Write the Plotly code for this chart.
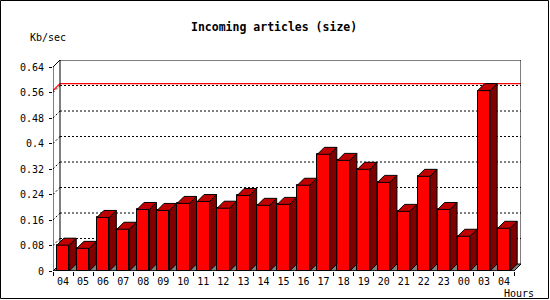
import plotly.graph_objects as go

# ---------------- data ----------------
hours = ["04", "05", "06", "07", "08", "09", "10", "11", "12", "13", "14", "15",
         "16", "17", "18", "19", "20", "21", "22", "23", "00", "03", "04"]
kb_per_sec = [0.081, 0.071, 0.168, 0.131, 0.193, 0.190, 0.212, 0.218, 0.197, 0.237,
              0.206, 0.209, 0.269, 0.366, 0.347, 0.319, 0.278, 0.187, 0.297, 0.193,
              0.109, 0.566, 0.134]
y_tick_values = [0, 0.08, 0.16, 0.24, 0.32, 0.40, 0.48, 0.56, 0.64]
y_tick_labels = ["0", "0.08", "0.16", "0.24", "0.32", "0.4", "0.48", "0.56", "0.64"]
title_text = "Incoming articles (size)"
y_unit = "Kb/sec"
x_unit = "Hours"

# ---------------- geometry ----------------
W, H = 550, 300
L, R, T, B = 53, 29, 60, 29
PW, PH = W - L - R, H - T - B
DEPTH_PX = 7
n = len(hours)
y_top = y_tick_values[-1]
dx = DEPTH_PX * n / (PW - DEPTH_PX)
dy = DEPTH_PX * y_top / (PH - DEPTH_PX)
bar_w = 0.62

FRONT = "#ff0000"
SIDE = "#800000"
TOP = "#c00000"
FLOOR = "#808080"


def pxx(p):
    return (p - L) / PW


def pxy(p):
    return (T + PH - p) / PH


xs = list(range(n))
x_left, x_right = -0.5, n - 0.5

fig = go.Figure()

# front faces
fig.add_trace(go.Bar(
    x=xs, y=kb_per_sec, width=bar_w,
    marker=dict(color=FRONT, line=dict(color="black", width=1)),
    hoverinfo="skip",
))

# side faces and top faces
sx, sy, tx, ty = [], [], [], []
for x, v in zip(xs, kb_per_sec):
    xl, xr = x - bar_w / 2, x + bar_w / 2
    sx += [xr, xr + dx, xr + dx, xr, xr, None]
    sy += [0, dy, v + dy, v, 0, None]
    tx += [xl, xl + dx, xr + dx, xr, xl, None]
    ty += [v, v + dy, v + dy, v, v, None]

fig.add_trace(go.Scatter(x=sx, y=sy, mode="lines", fill="toself", fillcolor=SIDE,
                         line=dict(color="black", width=1), hoverinfo="skip"))
fig.add_trace(go.Scatter(x=tx, y=ty, mode="lines", fill="toself", fillcolor=TOP,
                         line=dict(color="black", width=1), hoverinfo="skip"))

shapes = []
# floor
floor_path = (f"M {x_left},0 L {x_right},0 L {x_right + dx},{dy} "
              f"L {x_left + dx},{dy} Z")
shapes.append(dict(type="path", path=floor_path, xref="x", yref="y", layer="below",
                   fillcolor=FLOOR, line=dict(color="black", width=1)))
# dotted grid on back wall + connectors on left wall
for v in y_tick_values[1:-1]:
    shapes.append(dict(type="line", xref="x", yref="y", layer="below",
                       x0=x_left + dx, x1=x_right + dx, y0=v + dy, y1=v + dy,
                       line=dict(color="black", width=1, dash="2px,2px")))
    shapes.append(dict(type="line", xref="x", yref="y", layer="below",
                       x0=x_left, x1=x_left + dx, y0=v, y1=v + dy,
                       line=dict(color="black", width=1, dash="2px,2px")))
# max line
vmax = max(kb_per_sec)
shapes.append(dict(type="line", xref="x", yref="y", layer="below",
                   x0=x_left + dx, x1=x_right + dx, y0=vmax + dy, y1=vmax + dy,
                   line=dict(color="red", width=1.2)))
shapes.append(dict(type="line", xref="x", yref="y", layer="below",
                   x0=x_left, x1=x_left + dx, y0=vmax, y1=vmax + dy,
                   line=dict(color="red", width=1.2)))
# back wall outline
for (x0, y0, x1, y1) in [
    (x_left + dx, dy, x_left + dx, y_top + dy),
    (x_left + dx, y_top + dy, x_right + dx, y_top + dy),
    (x_right + dx, dy, x_right + dx, y_top + dy),
    (x_left, y_top, x_left + dx, y_top + dy),
    (x_left, 0, x_left, y_top),
    (x_left, 0, x_right, 0),
]:
    shapes.append(dict(type="line", xref="x", yref="y", layer="below",
                       x0=x0, x1=x1, y0=y0, y1=y1,
                       line=dict(color="black", width=1)))
# image frame
shapes.append(dict(type="rect", xref="paper", yref="paper",
                   x0=pxx(0.5), x1=pxx(548.5), y0=pxy(298.5), y1=pxy(0.5),
                   line=dict(color="black", width=1)))

mono = "DejaVu Sans Mono"
annotations = [
    dict(text=f"<b>{title_text}</b>", xref="paper", yref="paper",
         x=pxx(274), y=pxy(27), xanchor="center", yanchor="middle", showarrow=False,
         font=dict(family=mono, size=11.5, color="black")),
    dict(text=y_unit, xref="paper", yref="paper",
         x=pxx(47.5), y=pxy(37), xanchor="center", yanchor="middle", showarrow=False,
         font=dict(family=mono, size=10, color="black")),
    dict(text=x_unit, xref="paper", yref="paper",
         x=pxx(519), y=pxy(293), xanchor="center", yanchor="middle", showarrow=False,
         font=dict(family=mono, size=10, color="black")),
]

fig.update_layout(
    width=W, height=H,
    margin=dict(l=L, r=R, t=T, b=B, pad=0),
    paper_bgcolor="white", plot_bgcolor="white",
    showlegend=False, bargap=0,
    shapes=shapes, annotations=annotations,
    xaxis=dict(range=[x_left, x_right + dx], tickmode="array", tickvals=xs,
               ticktext=hours, ticks="outside", ticklen=1,
               tickcolor="rgba(0,0,0,0)", showgrid=False, zeroline=False,
               showline=False, fixedrange=True,
               tickfont=dict(family=mono, size=10, color="black"),
               minor=dict(tick0=-0.5, dtick=1, ticks="outside", ticklen=4,
                          tickcolor="black", tickwidth=1, showgrid=False)),
    yaxis=dict(range=[0, y_top + dy], tickmode="array", tickvals=y_tick_values,
               ticktext=y_tick_labels, ticks="outside", ticklen=3,
               tickcolor="black", tickwidth=1, showgrid=False, zeroline=False,
               showline=False, fixedrange=True, ticklabelstandoff=3,
               tickfont=dict(family=mono, size=10, color="black")),
)

fig.write_html("out.html", config={"displayModeBar": False})
